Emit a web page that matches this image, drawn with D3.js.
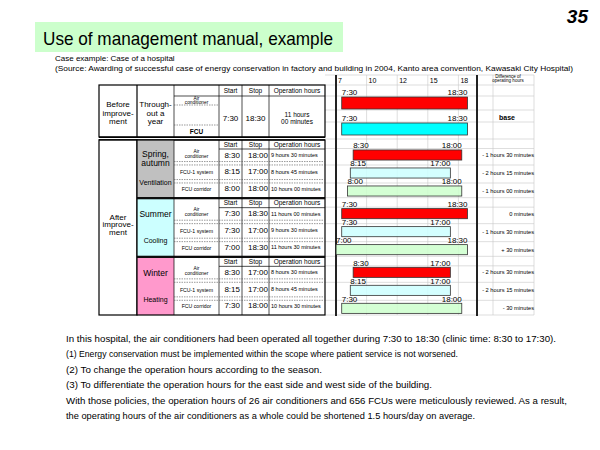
<!DOCTYPE html>
<html><head><meta charset="utf-8">
<script src="https://cdn.jsdelivr.net/npm/d3@7"></script>
<style>body{margin:0;background:#fff}svg{display:block;font-family:"Liberation Sans",Arial,sans-serif}</style>
</head><body><svg id="c" width="600" height="450"></svg>
<script>
// ---------- data ----------
const pageNumber = "35";
const title = "Use of management manual, example";
const subtitle = ["Case example: Case of a hospital",
  "(Source: Awarding of successful case of energy conservation in factory and building in 2004, Kanto area convention, Kawasaki City Hospital)"];
const hourTicks = ["7", "10", "12", "15", "18"];
const beforeSystems = ["Air conditioner", "FCU"];
const beforeStart = [7.5, 7.5];
const beforeStop = [18.5, 18.5];
const beforeHours = ["11 hours", "00 minutes"];
const beforeDiff = "base";
const seasons = ["Spring, autumn", "Summer", "Winter"];
const seasonLines = [["Spring,", "autumn"], ["Summer"], ["Winter"]];
const seasonModes = ["Ventilation", "Cooling", "Heating"];
const systems = ["Air conditioner", "FCU-1 system", "FCU corridor"];
const springStart = [8.5, 8.25, 8];
const springStop = [18, 17, 18];
const summerStart = [7.5, 7.5, 7];
const summerStop = [18.5, 17, 18.5];
const winterStart = [8.5, 8.25, 7.5];
const winterStop = [17, 17, 18];
const springHours = ["9 hours 30 minutes", "8 hours 45 minutes", "10 hours 00 minutes"];
const summerHours = ["11 hours 00 minutes", "9 hours 30 minutes", "11 hours 30 minutes"];
const winterHours = ["8 hours 30 minutes", "8 hours 45 minutes", "10 hours 30 minutes"];
const springDiff = ["- 1 hours 30 minutes", "- 2 hours 15 minutes", "- 1 hours 00 minutes"];
const summerDiff = ["0 minutes", "- 1 hours 30 minutes", "+ 30 minutes"];
const winterDiff = ["- 2 hours 30 minutes", "- 2 hours 15 minutes", "- 30 minutes"];
const notes = [
  "In this hospital, the air conditioners had been operated all together during 7:30 to 18:30 (clinic time: 8:30 to 17:30).",
  "(1) Energy conservation must be implemented within the scope where patient service is not worsened.",
  "(2) To change the operation hours according to the season.",
  "(3) To differentiate the operation hours for the east side and west side of the building.",
  "With those policies, the operation hours of 26 air conditioners and 656 FCUs were meticulously reviewed. As a result,",
  "the operating hours of the air conditioners as a whole could be shortened 1.5 hours/day on average."
];
const noteWidths = [490, 392, 256, 366, 501, 409];

// ---------- build ----------
const afterStart = [springStart, summerStart, winterStart];
const afterStop = [springStop, summerStop, winterStop];
const afterHours = [springHours, summerHours, winterHours];
const afterDiff = [springDiff, summerDiff, winterDiff];
const seasonFill = ["#c0c0c0", "#ccffff", "#ff99cc"];
const sysFill = ["#ff0000", "#ccffff", "#ccffcc"];
const beforeFill = ["#ff0000", "#00ffff"];

const svg = d3.select("#c");
const fmt = h => Math.floor(h) + ":" + String(Math.round((h % 1) * 60)).padStart(2, "0");

function T(g, x, y, s, size, anchor = "middle", extra = {}) {
  const t = g.append("text").attr("x", x).attr("y", y).attr("font-size", size)
    .attr("text-anchor", anchor).attr("fill", "#000").text(s);
  for (const k in extra) t.attr(k, extra[k]);
  return t;
}
function L(g, x1, y1, x2, y2, w = 0.8, c = "#000", dash = null) {
  const l = g.append("line").attr("x1", x1).attr("y1", y1).attr("x2", x2).attr("y2", y2)
    .attr("stroke", c).attr("stroke-width", w);
  if (dash) l.attr("stroke-dasharray", dash);
  return l;
}

// scales
const x = d3.scaleLinear().domain([7, 18.5]).range([336, 467.5]);
const xHead = d3.scaleBand().domain(hourTicks).range([336, 489]);
const yBlock = d3.scaleBand().domain(seasons).range([139, 315]);
const yRow = d3.scaleBand().domain(systems).range([7, 61]).paddingInner(0.44).paddingOuter(0.22);
const yBefore = d3.scaleBand().domain(beforeSystems).range([89, 143]).paddingInner(0.538).paddingOuter(0.3077);
const C = [99, 137, 174, 219, 242, 269, 325];

// title
svg.append("rect").attr("x", 35).attr("y", 22).attr("width", 308).attr("height", 30).attr("fill", "#ccffcc");
T(svg, 43, 45, title, 19, "start", {textLength: 290, lengthAdjust: "spacingAndGlyphs"});
T(svg, 588, 23, pageNumber, 19, "end", {"font-weight": "bold", "font-style": "italic"});
T(svg, 55, 61, subtitle[0], 8, "start");
T(svg, 55, 70.5, subtitle[1], 8, "start", {textLength: 518, lengthAdjust: "spacingAndGlyphs"});

// gridlines
const grid = svg.append("g");
const hy = [75, 85, 96, 110, 122];
seasons.forEach(s => { const t = yBlock(s); hy.push(t, t + 9.5, t + 26, t + 44); });
hy.push(315);
hy.forEach(y => L(grid, 325, y, 534, y, 0.6, "#c8c8c8"));
hourTicks.slice(1).forEach(h => L(grid, xHead(h), 75, xHead(h), 315, 0.6, "#c8c8c8"));
[493, 534].forEach(v => L(grid, v, 75, v, 315, 0.6, "#c8c8c8"));

// header of chart
hourTicks.forEach(h => T(svg, xHead(h) + 2, 83, h, 7, "start"));
T(svg, 508, 77.5, "Difference of", 4.5);
T(svg, 508, 82, "operating hours", 4.5);

// before table
const tb = svg.append("g");
tb.append("rect").attr("x", C[0]).attr("y", 85).attr("width", C[6] - C[0]).attr("height", 52)
  .attr("fill", "none").attr("stroke", "#000").attr("stroke-width", 1.2);
L(tb, C[1], 85, C[1], 137, 1.2);
[C[2], C[3], C[4], C[5]].forEach(v => L(tb, v, 85, v, 137, 0.7));
L(tb, C[2], 96, C[6], 96, 0.7);
L(tb, C[2], 105, C[3], 105, 0.6, "#555", "1.5,1");
L(tb, C[2], 125, C[3], 125, 0.6, "#555", "1.5,1");
L(tb, C[0], 137.2, C[6], 137.2, 1.6);
L(tb, C[0], 139.8, C[6], 139.8, 1.2);
["Before", "improve-", "ment"].forEach((s, i) => T(tb, 118, 107 + i * 8.5, s, 8));
["Through-", "out a", "year"].forEach((s, i) => T(tb, 155.5, 107 + i * 8.5, s, 8));
T(tb, 196.5, 99.5, "Air", 4.8);
T(tb, 196.5, 104, "conditioner", 4.8);
T(tb, 196.5, 133.5, beforeSystems[1], 6.5, "middle", {"font-weight": "bold"});
T(tb, 230.5, 92.5, "Start", 6.5);
T(tb, 255.5, 92.5, "Stop", 6.5);
T(tb, 297, 92.5, "Operation hours", 6.5);
T(tb, 230.5, 120.5, fmt(beforeStart[0]), 8);
T(tb, 255.5, 120.5, fmt(beforeStop[0]), 8);
T(tb, 297, 117, beforeHours[0], 6.5);
T(tb, 297, 124, beforeHours[1], 6.5);

// after table
const ta = svg.append("g");
ta.append("rect").attr("x", C[0]).attr("y", 139.8).attr("width", C[1] - C[0]).attr("height", 175.2)
  .attr("fill", "none").attr("stroke", "#000").attr("stroke-width", 1.2);
["After", "improve-", "ment"].forEach((s, i) => T(ta, 118, 219.5 + i * 7.6, s, 8));
seasons.forEach((s, k) => {
  const t = yBlock(s), h = yBlock.bandwidth();
  ta.append("rect").attr("x", C[1]).attr("y", t + 1).attr("width", C[2] - C[1]).attr("height", h - 1)
    .attr("fill", seasonFill[k]);
  ta.append("rect").attr("x", C[1]).attr("y", t + 1).attr("width", C[6] - C[1]).attr("height", h - 1)
    .attr("fill", "none").attr("stroke", "#000").attr("stroke-width", 1.2);
  [C[2], C[3], C[4], C[5]].forEach(v => L(ta, v, t + 1, v, t + h, 0.7));
  L(ta, C[3], t + 10, C[6], t + 10, 0.7);
  const ln = seasonLines[k];
  if (ln.length === 2) { T(ta, 155.5, t + 18, ln[0], 8.5); T(ta, 155.5, t + 27, ln[1], 8.5); }
  else T(ta, 155.5, t + 19.5, ln[0], 8.5);
  T(ta, 155.5, t + 45.5, seasonModes[k], 7);
  T(ta, 230.5, t + 7.8, "Start", 6.5);
  T(ta, 255.5, t + 7.8, "Stop", 6.5);
  T(ta, 297, t + 7.8, "Operation hours", 6.5);
  systems.forEach((sys, i) => {
    const rc = t + yRow(sys) + yRow.bandwidth() / 2;
    const base = rc + 2.5 - i * 1.2;
    if (i === 0) { T(ta, 196.5, t + 13.5, "Air", 4.8); T(ta, 196.5, t + 18.8, "conditioner", 4.8); }
    else T(ta, 196.5, base, sys, 5.2);
    T(ta, 240, base, fmt(afterStart[k][i]), 8, "end");
    T(ta, 268, base, fmt(afterStop[k][i]), 8, "end");
    T(ta, 271, base - 0.5, afterHours[k][i], 5.5, "start");
    if (i < 2) {
      L(ta, C[2], t + yRow(sys) + yRow.bandwidth() + 1.5, C[6], t + yRow(sys) + yRow.bandwidth() + 1.5, 0.6, "#555", "1.5,1");
    }
    if (i > 0) L(ta, C[2], t + yRow(sys) - 3, C[6], t + yRow(sys) - 3, 0.6, "#555", "1.5,1");
  });
});

// chart frame
L(svg, 336, 75, 336, 316, 2, "#222");
L(svg, 477, 75, 477, 316, 2, "#222");

// bars: before
const bars = svg.append("g");
beforeSystems.forEach((s, i) => {
  const y0 = yBefore(s);
  bars.append("rect").attr("x", x(beforeStart[i])).attr("y", y0)
    .attr("width", x(beforeStop[i]) - x(beforeStart[i])).attr("height", yBefore.bandwidth())
    .attr("fill", beforeFill[i]).attr("stroke", "#333").attr("stroke-width", 0.8);
  T(bars, x(beforeStart[i]), y0 - 2, fmt(beforeStart[i]), 8, "start");
  T(bars, x(beforeStop[i]), y0 - 2, fmt(beforeStop[i]), 8, "end");
});
T(bars, 507, 119.5, beforeDiff, 7, "middle", {"font-weight": "bold"});

// bars: after
seasons.forEach((s, k) => {
  const t = yBlock(s);
  systems.forEach((sys, i) => {
    const y0 = t + yRow(sys), a = afterStart[k][i], b = afterStop[k][i];
    bars.append("rect").attr("x", x(a)).attr("y", y0).attr("width", x(b) - x(a))
      .attr("height", yRow.bandwidth()).attr("fill", sysFill[i])
      .attr("fill-opacity", i === 0 ? 1 : 0.85)
      .attr("stroke", "#333").attr("stroke-width", 0.8);
    T(bars, x(a), y0 - 1.5, fmt(a), 8, "start");
    T(bars, x(b), y0 - 1.5, fmt(b), 8, "end");
    T(bars, 534, y0 + yRow.bandwidth() / 2 + 2, afterDiff[k][i], 5.7, "end");
  });
});

// notes
notes.forEach((n, i) => T(svg, 66, 341.5 + i * 15.5, n, 9.3, "start",
  {textLength: noteWidths[i], lengthAdjust: "spacingAndGlyphs"}));
</script></body></html>
